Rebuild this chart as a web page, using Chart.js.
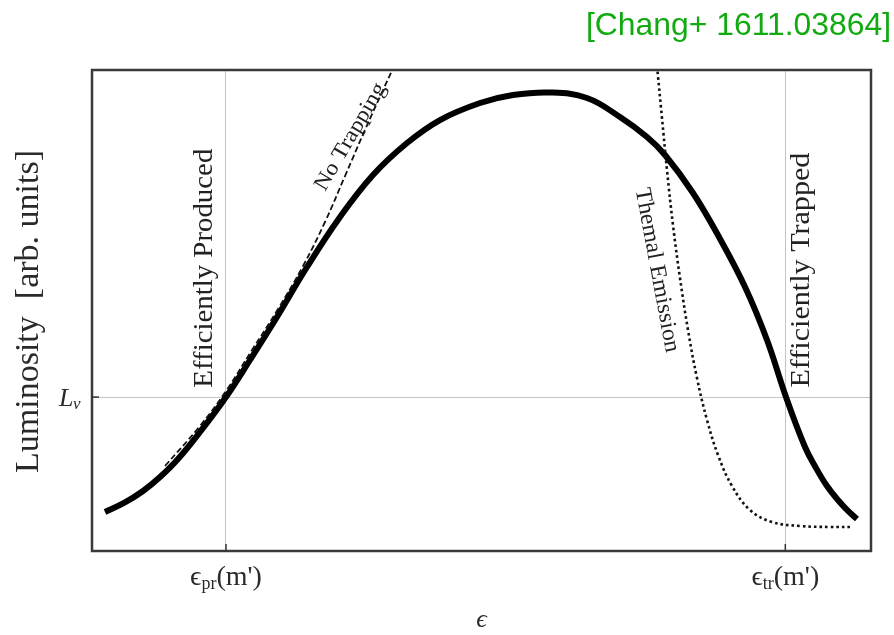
<!DOCTYPE html>
<html>
<head>
<meta charset="utf-8">
<script src="https://cdn.jsdelivr.net/npm/chart.js@4"></script>
<style>
  html, body { margin: 0; padding: 0; background: #fff; }
  #wrap { width: 894px; height: 635px; position: relative; }
</style>
</head>
<body>
<div id="wrap"><canvas id="chart"></canvas></div>
<script>
// luminosity curve (with trapping)
const mainX = [1.67, 4.11, 6.55, 8.73, 11.04, 13.86, 17.20, 20.28, 23.75, 27.60, 31.84, 36.07, 40.44, 44.67, 49.81, 54.04, 58.79, 63.54, 67.78, 71.25, 73.56, 77.15, 80.49, 83.83, 86.65, 89.09, 91.53, 92.94, 94.35, 95.76, 97.05, 98.20];
const mainY = [8.11, 9.98, 12.47, 15.38, 19.13, 24.74, 32.02, 39.71, 48.65, 59.04, 69.44, 78.17, 84.82, 89.60, 93.14, 94.80, 95.32, 94.18, 90.23, 86.07, 82.33, 74.43, 65.28, 54.89, 43.87, 32.02, 21.62, 17.26, 13.51, 10.60, 8.32, 6.65];

// no trapping (dashed)
const noTrapX = [9.37, 13.86, 17.20, 20.54, 23.88, 27.09, 29.91, 32.48, 35.04, 37.36, 39.02];
const noTrapY = [17.67, 25.99, 33.26, 41.79, 50.31, 59.25, 68.40, 77.96, 87.53, 95.84, 101.66];

// thermal emission (dotted)
const thermX = [72.53, 73.17, 73.81, 74.58, 75.48, 76.51, 77.66, 78.95, 80.36, 82.16, 84.47, 87.29, 90.89, 94.74, 97.56];
const thermY = [100.83, 90.02, 79.21, 67.78, 56.76, 45.95, 35.97, 27.23, 19.96, 13.51, 8.52, 6.03, 5.20, 4.99, 4.99];

// ticks
const xTickVals = [17.2, 89.0];
const xTickSubs = ['pr', 'tr'];
const yTickVals = [32.0];
const yTickSub = 'ν';

const pts = (xs, ys) => xs.map((x, i) => ({ x: x, y: ys[i] }));

const serif = '"Liberation Serif", "DejaVu Serif", serif';
const notes = [
  { text: 'Efficiently Produced', x: 14.5, y: 58.8, angle: -90, size: 28, len: 239 },
  { text: 'Efficiently Trapped', x: 91.1, y: 58.4, angle: -90, size: 28, len: 235 },
  { text: 'No Trapping', x: 33.2, y: 86.1, angle: -59.7, size: 22, len: 121 },
  { text: 'Themal Emission', x: 72.5, y: 58.4, angle: 79.4, size: 23, len: 167 }
];

function fitText(ctx, text, cx, cy, angle, font, len, color) {
  ctx.save();
  ctx.font = font;
  ctx.fillStyle = color;
  ctx.textAlign = 'center';
  ctx.textBaseline = 'middle';
  const w = ctx.measureText(text).width;
  ctx.translate(cx, cy);
  ctx.rotate(angle * Math.PI / 180);
  if (len) ctx.scale(len / w, 1);
  ctx.fillText(text, 0, 0);
  ctx.restore();
}

const decor = {
  id: 'decor',
  afterDraw(chart) {
    const ctx = chart.ctx;
    const a = chart.chartArea;
    const xs = chart.scales.x, ys = chart.scales.y;

    // frame
    ctx.save();
    ctx.strokeStyle = '#3a3a3a';
    ctx.lineWidth = 2.5;
    ctx.strokeRect(a.left, a.top, a.right - a.left, a.bottom - a.top);

    // inner ticks
    ctx.lineWidth = 1.5;
    ctx.strokeStyle = '#333';
    xTickVals.forEach(v => {
      const px = xs.getPixelForValue(v);
      ctx.beginPath(); ctx.moveTo(px, a.bottom); ctx.lineTo(px, a.bottom - 7); ctx.stroke();
    });
    yTickVals.forEach(v => {
      const py = ys.getPixelForValue(v);
      ctx.beginPath(); ctx.moveTo(a.left, py); ctx.lineTo(a.left + 7, py); ctx.stroke();
    });
    ctx.restore();

    // x tick labels: ϵ_sub(m')
    ctx.save();
    ctx.fillStyle = '#2a2a2a';
    ctx.textBaseline = 'alphabetic';
    xTickVals.forEach((v, i) => {
      const px = xs.getPixelForValue(v);
      const f1 = '28px ' + serif, f2 = '18px ' + serif;
      ctx.font = f1;
      const wE = ctx.measureText('ϵ').width;
      const wT = ctx.measureText("(m')").width;
      ctx.font = f2;
      const wS = ctx.measureText(xTickSubs[i]).width;
      let x0 = px - (wE + wS + wT) / 2;
      const base = a.bottom + 34;
      ctx.textAlign = 'left';
      ctx.font = f1; ctx.fillText('ϵ', x0, base);
      ctx.font = f2; ctx.fillText(xTickSubs[i], x0 + wE, base + 4);
      ctx.font = f1; ctx.fillText("(m')", x0 + wE + wS, base);
    });

    // y tick label L_ν
    yTickVals.forEach(v => {
      const py = ys.getPixelForValue(v);
      ctx.textAlign = 'left';
      ctx.font = 'italic 26px ' + serif;
      ctx.fillText('L', a.left - 33, py + 9);
      ctx.font = 'italic 17px ' + serif;
      ctx.fillText(yTickSub, a.left - 19, py + 12);
    });

    // x axis title
    ctx.textAlign = 'center';
    ctx.font = 'italic 26px ' + serif;
    ctx.fillText('ϵ', (a.left + a.right) / 2, a.bottom + 76);
    ctx.restore();

    // y axis title
    fitText(ctx, 'Luminosity  [arb. units]', 29, (a.top + a.bottom) / 2 + 1, -90, '34px ' + serif, 323, '#2a2a2a');

    // annotations
    notes.forEach(n => {
      fitText(ctx, n.text, xs.getPixelForValue(n.x), ys.getPixelForValue(n.y), n.angle, n.size + 'px ' + serif, n.len, '#222');
    });

    // source tag
    ctx.save();
    ctx.font = '32px "Liberation Sans", Arial, sans-serif';
    ctx.fillStyle = '#11aa11';
    ctx.textAlign = 'right';
    ctx.textBaseline = 'alphabetic';
    const tag = '[Chang+ 1611.03864]';
    const tw = ctx.measureText(tag).width;
    ctx.translate(891, 35);
    ctx.scale(305 / tw, 1);
    ctx.fillText(tag, 0, 0);
    ctx.restore();
  }
};

new Chart(document.getElementById('chart'), {
  type: 'line',
  data: {
    datasets: [
      {
        label: 'Luminosity',
        data: pts(mainX, mainY),
        borderColor: '#000',
        borderWidth: 6,
        tension: 0.4,
        pointRadius: 0,
        fill: false,
        order: 2
      },
      {
        label: 'No Trapping',
        data: pts(noTrapX, noTrapY),
        borderColor: '#111',
        borderWidth: 1.8,
        borderDash: [6, 3],
        tension: 0.4,
        pointRadius: 0,
        fill: false,
        order: 0
      },
      {
        label: 'Thermal Emission',
        data: pts(thermX, thermY),
        borderColor: '#111',
        borderWidth: 2.6,
        borderDash: [2.6, 3],
        tension: 0.4,
        pointRadius: 0,
        fill: false,
        order: 1
      }
    ]
  },
  options: {
    responsive: true,
    maintainAspectRatio: false,
    animation: false,
    layout: { padding: { left: 92, right: 23, top: 70, bottom: 84 } },
    plugins: { legend: { display: false }, tooltip: { enabled: false } },
    scales: {
      x: {
        type: 'linear',
        min: 0,
        max: 100,
        afterBuildTicks: s => { s.ticks = xTickVals.map(v => ({ value: v })); },
        ticks: { display: false },
        grid: { color: '#c4c4c4', lineWidth: 1, drawTicks: false },
        border: { display: false }
      },
      y: {
        type: 'linear',
        min: 0,
        max: 100,
        afterBuildTicks: s => { s.ticks = yTickVals.map(v => ({ value: v })); },
        ticks: { display: false },
        grid: { color: '#c4c4c4', lineWidth: 1, drawTicks: false },
        border: { display: false }
      }
    }
  },
  plugins: [decor]
});
</script>
</body>
</html>
